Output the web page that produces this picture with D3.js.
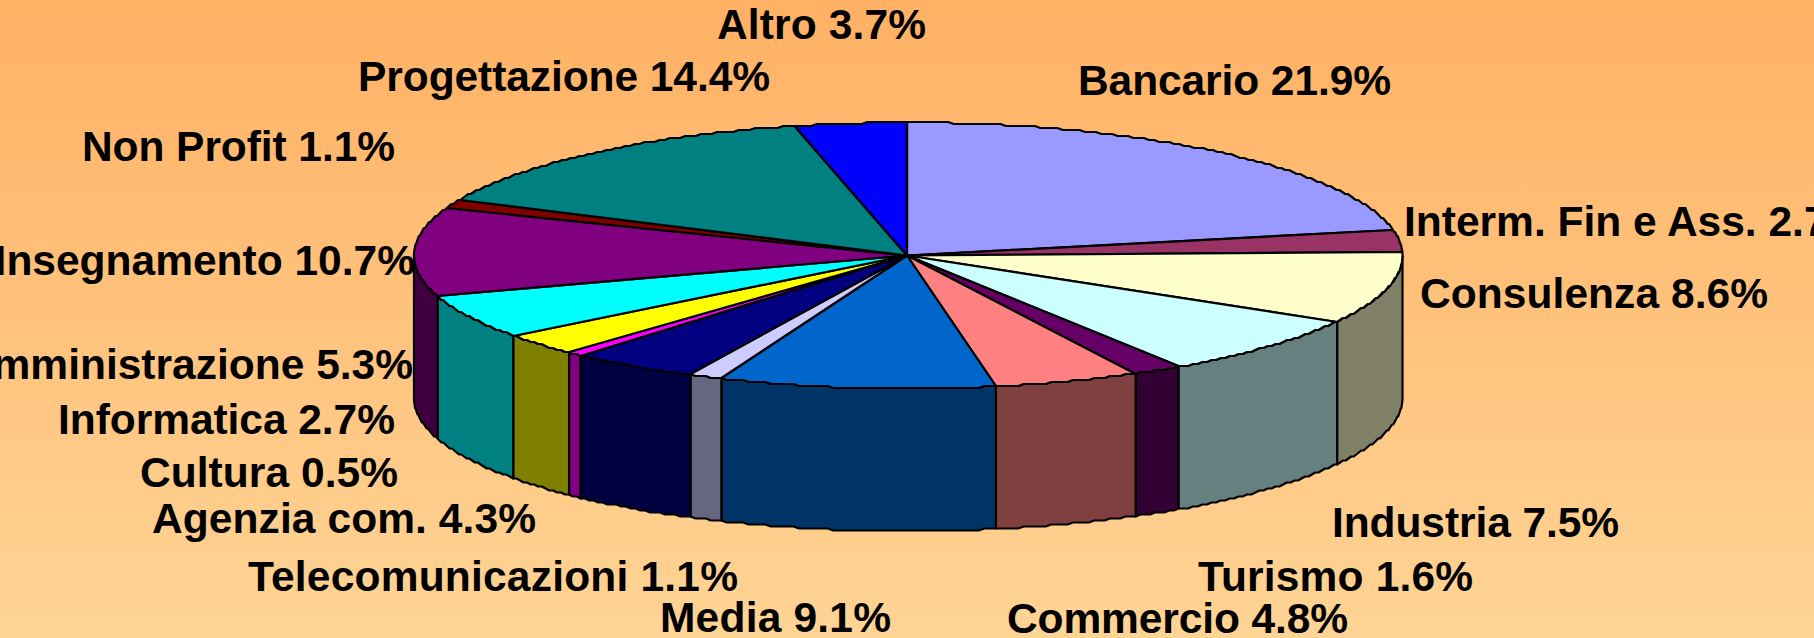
<!DOCTYPE html>
<html><head><meta charset="utf-8">
<script src="https://cdn.jsdelivr.net/npm/d3@7/dist/d3.min.js"></script>
<style>html,body{margin:0;padding:0;overflow:hidden}svg{display:block}</style>
</head><body><svg id="c" width="1814" height="638"></svg>
<script>
const categories = ["Bancario","Interm. Fin e Ass.","Consulenza","Industria","Turismo","Commercio","Media","Telecomunicazioni","Agenzia com.","Cultura","Informatica","Amministrazione","Insegnamento","Non Profit","Progettazione","Altro"];
const values = [21.9,2.7,8.6,7.5,1.6,4.8,9.1,1.1,4.3,0.5,2.7,5.3,10.7,1.1,14.4,3.7];
const topColors = ["#9999FF","#993366","#FFFFCC","#CCFFFF","#660066","#FF8080","#0066CC","#CCCCFF","#000080","#FF00FF","#FFFF00","#00FFFF","#800080","#800000","#008080","#0000FF"];
const labelLayout = [
 {x:1078,y:95,a:"start",w:313},{x:1404,y:236,a:"start"},{x:1420,y:308,a:"start",w:348},{x:1332,y:537,a:"start",w:287},
 {x:1198,y:591,a:"start",w:275},{x:1007,y:633,a:"start",w:341},{x:660,y:632,a:"start",w:231},{x:248,y:591,a:"start",w:490},
 {x:152,y:533,a:"start",w:384},{x:140,y:487,a:"start",w:258},{x:58,y:434,a:"start",w:337},{x:413,y:379,a:"end"},
 {x:415,y:275,a:"end"},{x:82,y:161,a:"start",w:313},{x:358,y:91,a:"start",w:412},{x:717,y:39,a:"start",w:209}];

const W=1814,H=638,cx=907,cy=255.5,rxRight=495.5,rxLeft=493,ry=133,depth=142.5,warp=0.005,stepY=2;
const svg=d3.select("#c");
const defs=svg.append("defs");
const g=defs.append("linearGradient").attr("id","bg").attr("x1",0).attr("y1",0).attr("x2",0).attr("y2",1);
g.append("stop").attr("offset",0).attr("stop-color","#FFB164");
g.append("stop").attr("offset",1).attr("stop-color","#FFD495");
svg.append("rect").attr("width",W).attr("height",H).attr("fill","url(#bg)");

const pie=d3.pie().sort(null).value(d=>d)(values);
const W2=a=>a-warp*Math.sin(2*a);
const X=a=>{const s=Math.sin(W2(a));return cx+(s>=0?rxRight:rxLeft)*s;};
const Y=a=>Math.round((cy-ry*Math.cos(W2(a)))/stepY)*stepY;
const samples=(a0,a1)=>{const n=Math.max(2,Math.ceil((a1-a0)/0.012));return d3.range(n+1).map(i=>a0+(a1-a0)*i/n);};
const line=d3.line();
const style=s=>s.attr("stroke","#000").attr("stroke-width",2.2).attr("stroke-linejoin","round");

const sideG=svg.append("g");
pie.forEach((p,i)=>{
  const a0=Math.max(p.startAngle,Math.PI/2),a1=Math.min(p.endAngle,Math.PI*1.5);
  if(a1<=a0) return;
  const c=d3.rgb(topColors[i]);
  const dark=d3.rgb(c.r*0.5,c.g*0.5,c.b*0.5);
  const up=samples(a0,a1).map(a=>[X(a),Y(a)]);
  const down=samples(a0,a1).reverse().map(a=>[X(a),Y(a)+depth]);
  style(sideG.append("path").attr("d",line(up.concat(down))+"Z").attr("fill",dark.formatHex()));
});
const topG=svg.append("g");
pie.forEach((p,i)=>{
  const rim=samples(p.startAngle,p.endAngle).map(a=>[X(a),Y(a)]);
  style(topG.append("path").attr("d",line([[cx,cy]].concat(rim))+"Z").attr("fill",topColors[i]));
});
svg.append("g").selectAll("text").data(categories).join("text")
  .attr("x",(d,i)=>labelLayout[i].x).attr("y",(d,i)=>labelLayout[i].y)
  .attr("text-anchor",(d,i)=>labelLayout[i].a)
  .attr("textLength",(d,i)=>labelLayout[i].w||null)
  .attr("lengthAdjust","spacing")
  .attr("font-family","'Liberation Sans',Arial,sans-serif").attr("font-weight","bold").attr("font-size",42.5)
  .attr("fill","#000")
  .text((d,i)=>d+" "+values[i].toFixed(1)+"%");
</script></body></html>
